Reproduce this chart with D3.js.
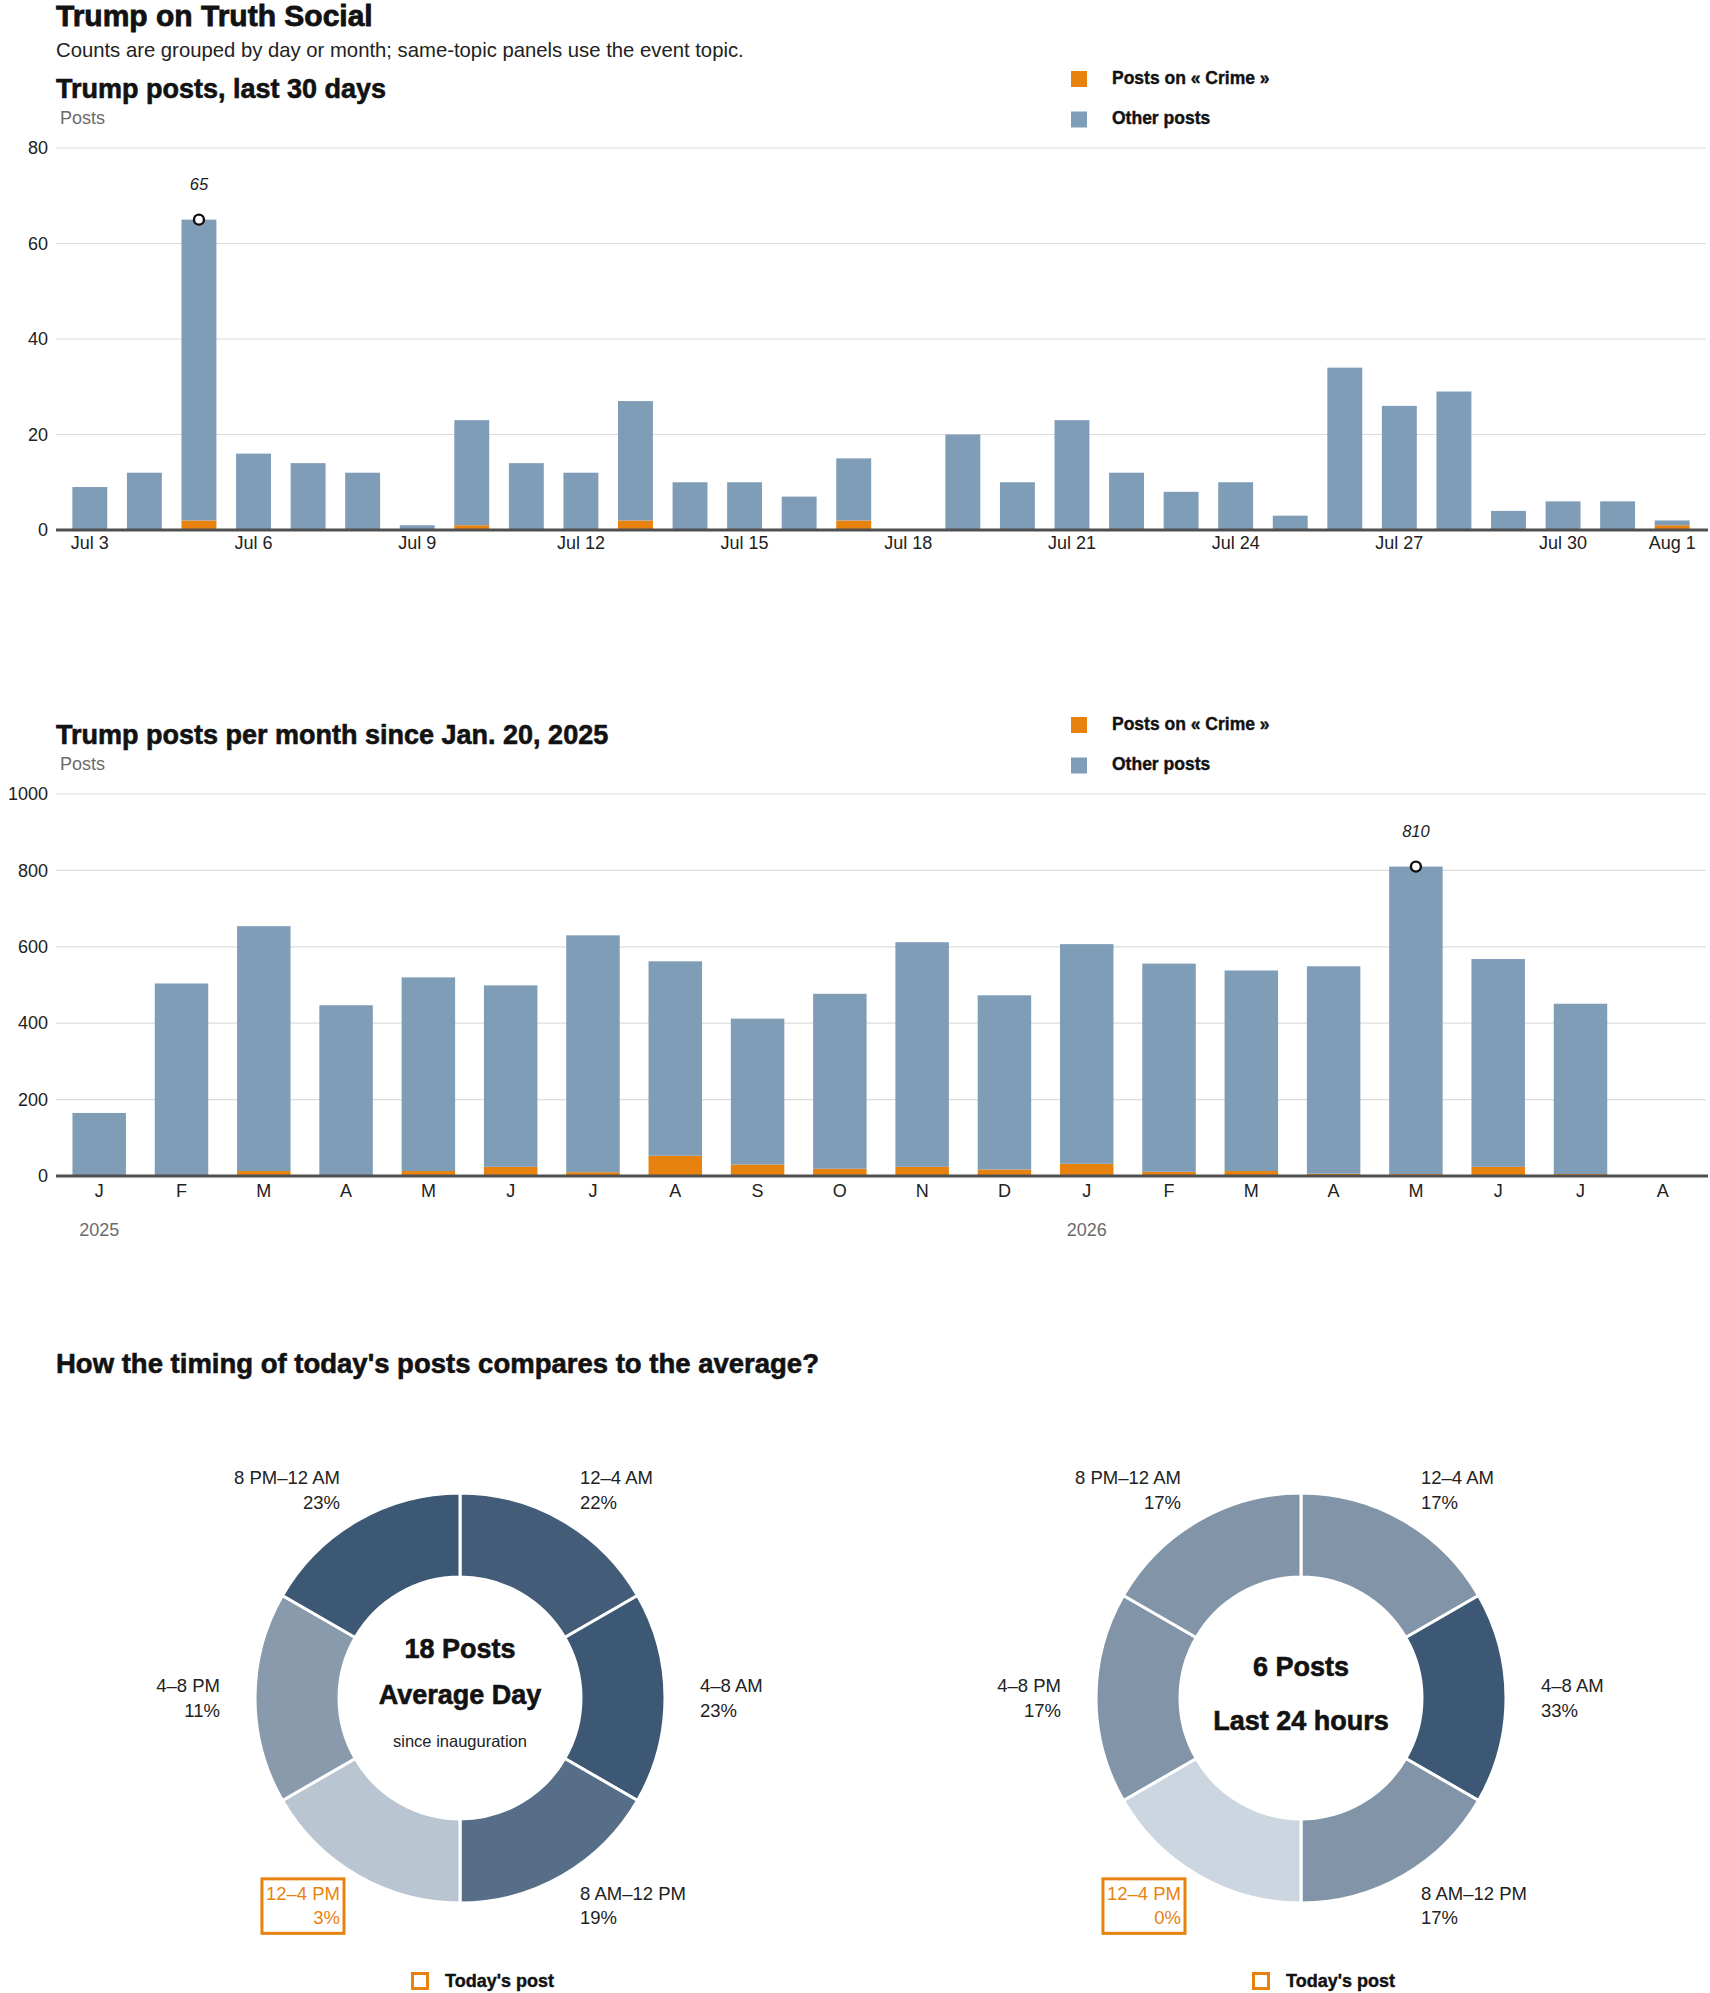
<!DOCTYPE html>
<html>
<head>
<meta charset="utf-8">
<script src="https://cdn.jsdelivr.net/npm/d3@7"></script>
<style>
body { margin: 0; background: #fff; }
.head { font-family: "Liberation Sans Narrow", "Arial Narrow", "Liberation Sans", sans-serif; font-weight: bold; fill: #121212; stroke: #121212; stroke-width: 0.6px; }
.body { font-family: "Liberation Sans", Arial, sans-serif; fill: #222; }
.note { font-family: "Liberation Sans", Arial, sans-serif; font-style: italic; fill: #222; }
</style>
</head>
<body>
<div id="my_dataviz"></div>
<script>
// ---- data ----
var dayLabels = ["Jul 3", "Jul 4", "Jul 5", "Jul 6", "Jul 7", "Jul 8", "Jul 9", "Jul 10", "Jul 11", "Jul 12",
    "Jul 13", "Jul 14", "Jul 15", "Jul 16", "Jul 17", "Jul 18", "Jul 19", "Jul 20", "Jul 21", "Jul 22",
    "Jul 23", "Jul 24", "Jul 25", "Jul 26", "Jul 27", "Jul 28", "Jul 29", "Jul 30", "Jul 31", "Aug 1"];
var dayTotal = [9, 12, 65, 16, 14, 12, 1, 23, 14, 12, 27, 10, 10, 7, 15, 0, 20, 10, 23, 12, 8, 10, 3, 34, 26, 29, 4, 6, 6, 2];
var dayCrime = [0, 0, 2, 0, 0, 0, 0, 1, 0, 0, 2, 0, 0, 0, 2, 0, 0, 0, 0, 0, 0, 0, 0, 0, 0, 0, 0, 0, 0, 1];
var dayTicks = ["Jul 3", "Jul 6", "Jul 9", "Jul 12", "Jul 15", "Jul 18", "Jul 21", "Jul 24", "Jul 27", "Jul 30", "Aug 1"];
var dayYTicks = [0, 20, 40, 60, 80];

var monthKeys = ["2025-01", "2025-02", "2025-03", "2025-04", "2025-05", "2025-06", "2025-07", "2025-08", "2025-09", "2025-10",
    "2025-11", "2025-12", "2026-01", "2026-02", "2026-03", "2026-04", "2026-05", "2026-06", "2026-07", "2026-08"];
var monthLabels = ["J", "F", "M", "A", "M", "J", "J", "A", "S", "O", "N", "D", "J", "F", "M", "A", "M", "J", "J", "A"];
var monthTotal = [165, 504, 654, 447, 520, 499, 630, 562, 412, 477, 612, 473, 607, 556, 538, 549, 810, 568, 451, 0];
var monthCrime = [0, 1, 13, 1, 13, 24, 10, 53, 30, 19, 24, 17, 32, 11, 13, 6, 5, 24, 5, 0];
var monthYTicks = [0, 200, 400, 600, 800, 1000];
var yearKeys = ["2025-01", "2026-01"];
var yearLabels = ["2025", "2026"];

var slotLabels = ["12–4 AM", "4–8 AM", "8 AM–12 PM", "12–4 PM", "4–8 PM", "8 PM–12 AM"];
var avgShare = [22, 23, 19, 3, 11, 23];
var todayShare = [17, 33, 17, 0, 17, 17];
var todaySlot = "12–4 PM";

var CRIME = "#e8820e", OTHER = "#809db8", HILITE = "#e8820e";

var svg = d3.select("#my_dataviz").append("svg")
    .attr("width", 1710)
    .attr("height", 1993);

function addText(x, y, cls, size, txt) {
    return svg.append("text")
        .attr("class", cls)
        .attr("x", x)
        .attr("y", y)
        .style("font-size", size + "px")
        .text(txt);
}

// header
addText(56, 26, "head", 30, "Trump on Truth Social").style("stroke-width", "0.8px");
addText(56, 57, "body", 20.3, "Counts are grouped by day or month; same-topic panels use the event topic.");

function appendLegend(T) {
    var items = [["Posts on « Crime »", CRIME], ["Other posts", OTHER]];
    items.forEach(function(d, i) {
        svg.append("rect")
            .attr("x", 1071).attr("y", T + 71 + i * 40.5)
            .attr("width", 16).attr("height", 16)
            .attr("fill", d[1]);
        addText(1112, T + 84 + i * 40, "head", 17.5, d[0]).style("stroke-width", "0.4px");
    });
}

/**
 * Stacked bars: crime at the bottom, other posts on top.
 * T is the vertical offset of the panel.
 */
function drawStacked(T, title, keys, total, crime, yTicks, opt) {
    var table = keys.map(function(k, i) {
        return { key: k, crime: crime[i], other: total[i] - crime[i], total: total[i] };
    });

    // set the ranges
    var x = d3.scaleBand().domain(keys).range([56, 1706])
        .paddingInner(opt.padInner).paddingOuter(opt.padOuter);
    var y = d3.scaleLinear().domain([0, yTicks[yTicks.length - 1]]).range([T + 530, T + 148]);

    addText(56, T + 97.5, "head", 27, title);
    addText(60, T + 123.5, "body", 18, "Posts").style("fill", "#6b6b6b");
    appendLegend(T);

    // gridlines
    svg.append("g").selectAll("line")
        .data(yTicks.filter(function(v) { return v > 0; }))
        .enter().append("line")
        .attr("x1", 56).attr("x2", 1706)
        .attr("y1", function(d) { return y(d); })
        .attr("y2", function(d) { return y(d); })
        .attr("stroke", "#dcdcdc").attr("stroke-width", 1.2);

    var yAxis = svg.append("g")
        .attr("transform", "translate(56,0)")
        .call(d3.axisLeft(y).tickValues(yTicks).tickFormat(d3.format("d")).tickSize(0).tickPadding(8));
    yAxis.select(".domain").remove();
    yAxis.selectAll("text").attr("class", "body").style("font-size", "18px").attr("fill", null);

    var stack = d3.stack().keys(["crime", "other"])(table);
    svg.append("g").selectAll("g")
        .data(stack)
        .enter().append("g")
        .attr("fill", function(d) { return d.key == "crime" ? CRIME : OTHER; })
        .selectAll("rect")
        .data(function(d) { return d; })
        .enter().append("rect")
        .attr("x", function(d) { return x(d.data.key); })
        .attr("width", x.bandwidth())
        .attr("y", function(d) { return y(d[1]); })
        .attr("height", function(d) { return y(d[0]) - y(d[1]); });

    var xAxis = svg.append("g")
        .attr("transform", "translate(0," + (T + 530) + ")")
        .call(d3.axisBottom(x).tickValues(opt.ticks).tickFormat(opt.fmt).tickSize(0).tickPadding(opt.tickPad));
    xAxis.select(".domain").remove();
    xAxis.selectAll("text").attr("class", "body").style("font-size", "18px").attr("fill", null);

    // baseline
    svg.append("line")
        .attr("x1", 56).attr("x2", 1708)
        .attr("y1", T + 530).attr("y2", T + 530)
        .attr("stroke", "#4f4f4f").attr("stroke-width", 3);

    // mark the busiest bar
    var top = table.reduce(function(a, b) { return b.total > a.total ? b : a; });
    var cx = x(top.key) + x.bandwidth() / 2;
    svg.append("circle")
        .attr("cx", cx).attr("cy", y(top.total))
        .attr("r", 5)
        .attr("fill", "#fff").attr("stroke", "#111").attr("stroke-width", 2.4);
    addText(cx, y(top.total) - 30, "note", 16.5, top.total)
        .attr("text-anchor", "middle");

    return x;
}

drawStacked(0, "Trump posts, last 30 days", dayLabels, dayTotal, dayCrime, dayYTicks,
    { padInner: 0.36, padOuter: 0.3, ticks: dayTicks, fmt: function(d) { return d; }, tickPad: 6 });

var xm = drawStacked(646, "Trump posts per month since Jan. 20, 2025", monthKeys, monthTotal, monthCrime, monthYTicks,
    { padInner: 0.35, padOuter: 0.2, ticks: monthKeys,
      fmt: function(d) { return monthLabels[monthKeys.indexOf(d)]; }, tickPad: 8 });

yearKeys.forEach(function(k, i) {
    addText(xm(k) + xm.bandwidth() / 2, 1236, "body", 18, yearLabels[i])
        .attr("text-anchor", "middle").style("fill", "#6b6b6b");
});

// ---- donuts ----
addText(56, 1372.5, "head", 27.5, "How the timing of today's posts compares to the average?");

function drawDonut(cx, cy, shares, centerLines) {
    var color = d3.scaleLinear().domain([0, d3.max(shares)]).range(["#ccd6e0", "#3d5874"]);
    var pie = d3.pie().value(1).sort(null);
    var arc = d3.arc().innerRadius(121).outerRadius(205);
    var slices = pie(slotLabels.map(function(s, i) { return { label: s, share: shares[i] }; }));

    var g = svg.append("g").attr("transform", "translate(" + cx + "," + cy + ")");
    g.selectAll("path")
        .data(slices)
        .enter().append("path")
        .attr("d", arc)
        .attr("fill", function(d) { return color(d.data.share); })
        .attr("stroke", "#fff").attr("stroke-width", 3);

    slices.forEach(function(d) {
        var a = (d.startAngle + d.endAngle) / 2;
        var lx = 240 * Math.sin(a), ly = -240 * Math.cos(a);
        var anchor = Math.sin(a) > 0.01 ? "start" : (Math.sin(a) < -0.01 ? "end" : "middle");
        var hot = d.data.label == todaySlot;
        var t = g.append("text")
            .attr("class", "body")
            .attr("text-anchor", anchor)
            .style("font-size", "18.5px")
            .style("fill", hot ? HILITE : "#222");
        t.append("tspan").attr("x", lx).attr("y", ly - 6).text(d.data.label);
        t.append("tspan").attr("x", lx).attr("y", ly + 18.5).text(d.data.share + "%");
        if (hot) {
            var b = t.node().getBBox();
            g.append("rect")
                .attr("x", b.x - 4).attr("y", b.y - 4)
                .attr("width", b.width + 8).attr("height", b.height + 9)
                .attr("fill", "none").attr("stroke", HILITE).attr("stroke-width", 3);
        }
    });

    centerLines.forEach(function(c) {
        g.append("text")
            .attr("class", c.small ? "body" : "head")
            .attr("text-anchor", "middle")
            .attr("y", c.dy)
            .style("font-size", c.small ? "16.5px" : "27px")
            .text(c.text);
    });

    // legend
    g.append("rect")
        .attr("x", -47.5).attr("y", 275.5)
        .attr("width", 15).attr("height", 15)
        .attr("fill", "none").attr("stroke", HILITE).attr("stroke-width", 3);
    g.append("text")
        .attr("class", "head")
        .attr("x", -15).attr("y", 288.5)
        .style("font-size", "18px")
        .style("stroke-width", "0.4px")
        .text("Today's post");
}

drawDonut(460, 1698, avgShare, [
    { text: "18 Posts", dy: -40.5 },
    { text: "Average Day", dy: 5.5 },
    { text: "since inauguration", dy: 49, small: true }
]);
drawDonut(1301, 1698, todayShare, [
    { text: "6 Posts", dy: -22.5 },
    { text: "Last 24 hours", dy: 32 }
]);
</script>
</body>
</html>
